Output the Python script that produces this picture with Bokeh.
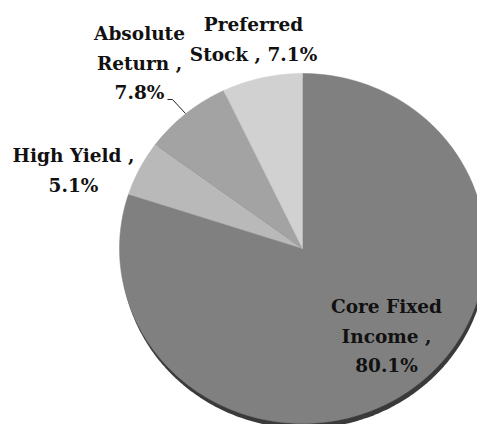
import numpy as np
from bokeh.plotting import figure
from bokeh.models import Range1d
from bokeh.core.properties import value
from bokeh.embed import file_html
from bokeh.resources import INLINE

# data
categories = ["Core Fixed Income", "High Yield", "Absolute Return", "Preferred Stock"]
shares = [80.1, 5.1, 7.8, 7.1]
colors = ["#808080", "#b9b9b9", "#a3a3a3", "#d1d1d1"]
label_lines = [["Core Fixed", "Income ,", "80.1%"],
               ["High Yield ,", "5.1%"],
               ["Absolute", "Return ,", "7.8%"],
               ["Preferred", "Stock , 7.1%"]]

# layout (pixel-like data units, pie center at 0,0)
RX, RY = 183.0, 175.0
label_anchor = [(84, -58), (-229, 93), (-163, 215), (-49, 224)]
LINE_STEP = 29.5

W, H = 477, 424
CX, CY = 302, 248  # pie centre in screenshot pixels
p = figure(width=W, height=H, output_backend="svg", toolbar_location=None,
           x_range=Range1d(-CX, -CX + W), y_range=Range1d(CY - H, CY),
           min_border=0)
p.axis.visible = False
p.grid.visible = False
p.outline_line_color = None
p.background_fill_color = "white"

# shadow / depth
t = np.linspace(0, 2 * np.pi, 400)
p.patch(1.5 + RX * np.cos(t), -5 + RY * np.sin(t), fill_color="#3a3a3a", line_color=None)

# wedges: clockwise from 12 o'clock
total = sum(shares)
start = 0.0
xs, ys = [], []
for s in shares:
    end = start + s / total * 2 * np.pi
    a = np.linspace(start, end, max(4, int(200 * s / total) + 4))
    xs.append(np.concatenate([[0], RX * np.sin(a), [0]]))
    ys.append(np.concatenate([[0], RY * np.cos(a), [0]]))
    start = end
p.patches(xs, ys, fill_color=colors, line_color=colors, line_width=0.5)

# labels
tx, ty, tt = [], [], []
for (ax, ay), lines in zip(label_anchor, label_lines):
    for i, ln in enumerate(lines):
        tx.append(ax)
        ty.append(ay - i * LINE_STEP)
        tt.append(ln)
p.text(tx, ty, text=tt, text_align="center", text_baseline="alphabetic",
       text_font=value("DejaVu Serif"), text_font_style="bold",
       text_font_size="18.5px", text_color="#111111")

# leader line for Absolute Return
p.line([-135, -130, -117], [149, 149, 135], line_color="#222222", line_width=1)

open("out.html", "w").write(file_html(p, INLINE))
